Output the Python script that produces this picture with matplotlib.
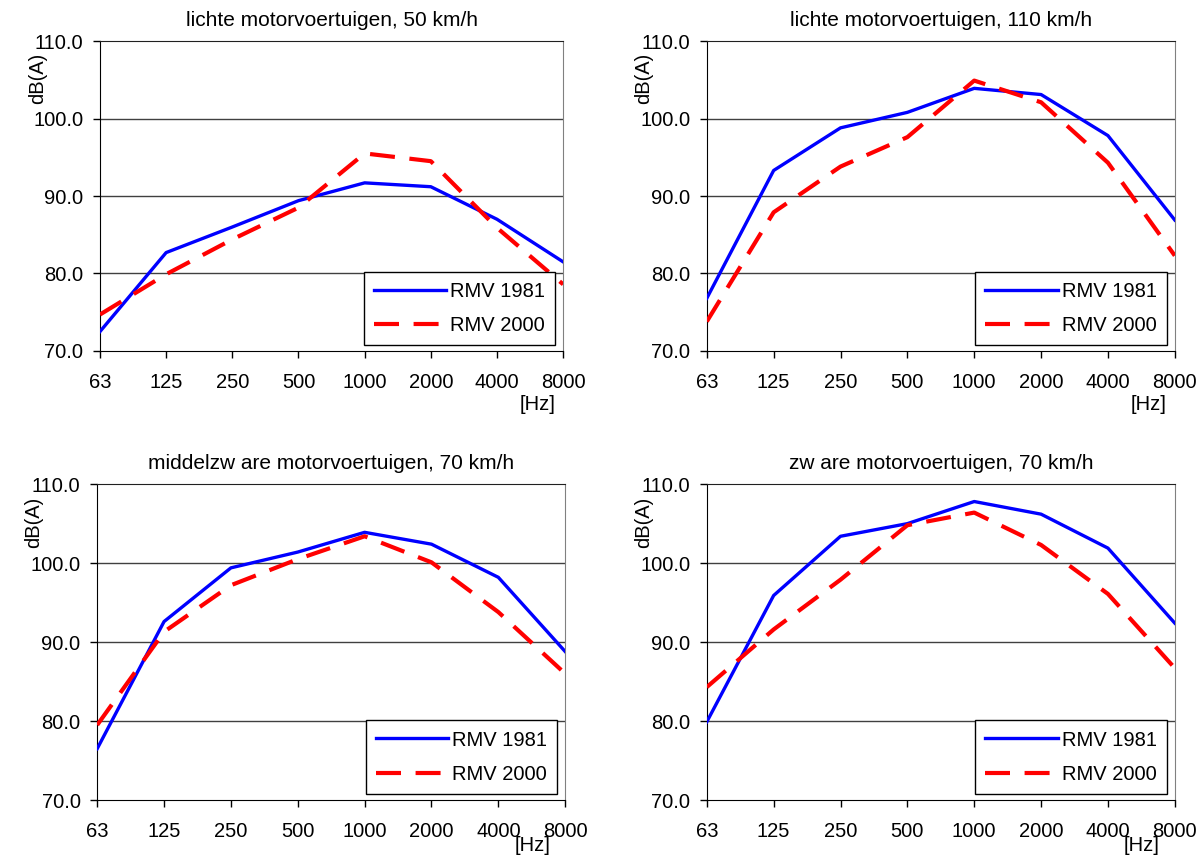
import matplotlib
matplotlib.use('Agg')
import matplotlib.pyplot as plt

plt.rcParams['font.family'] = ['Liberation Sans', 'DejaVu Sans']

# frequency bands (Hz)
freqs = ['63', '125', '250', '500', '1000', '2000', '4000', '8000']

titles = ['lichte motorvoertuigen, 50 km/h',
          'lichte motorvoertuigen, 110 km/h',
          'middelzw are motorvoertuigen, 70 km/h',
          'zw are motorvoertuigen, 70 km/h']

# RMV 1981 spectra, dB(A)
rmv1981_light50 = [72.5, 82.7, 86.0, 89.4, 91.7, 91.2, 87.0, 81.5]
rmv1981_light110 = [76.8, 93.3, 98.8, 100.8, 103.9, 103.1, 97.8, 86.9]
rmv1981_medium70 = [76.5, 92.6, 99.4, 101.4, 103.9, 102.4, 98.2, 88.8]
rmv1981_heavy70 = [79.9, 95.9, 103.4, 105.0, 107.8, 106.2, 101.9, 92.4]

# RMV 2000 spectra, dB(A)
rmv2000_light50 = [74.7, 79.9, 84.4, 88.5, 95.5, 94.5, 85.9, 78.6]
rmv2000_light110 = [73.8, 87.9, 93.8, 97.6, 104.9, 102.1, 94.3, 82.3]
rmv2000_medium70 = [79.5, 91.3, 97.2, 100.5, 103.4, 100.1, 93.8, 86.0]
rmv2000_heavy70 = [84.3, 91.6, 97.9, 104.8, 106.4, 102.3, 96.1, 86.7]

series_1981 = [rmv1981_light50, rmv1981_light110, rmv1981_medium70, rmv1981_heavy70]
series_2000 = [rmv2000_light50, rmv2000_light110, rmv2000_medium70, rmv2000_heavy70]

# axes boxes in figure fractions
boxes = [[0.0833, 0.590, 0.386, 0.362],
         [0.589, 0.590, 0.390, 0.362],
         [0.081, 0.0654, 0.390, 0.369],
         [0.589, 0.0654, 0.390, 0.369]]
# position of the [Hz] label in axes fractions
hz_pos = [(0.944, -0.174), (0.944, -0.174), (0.93, -0.145), (0.93, -0.145)]

fig = plt.figure(figsize=(12, 8.56), dpi=100)

x = list(range(len(freqs)))
for i in range(4):
    ax = fig.add_axes(boxes[i])
    ax.plot(x, series_1981[i], color='#0000FF', lw=2.4, label='RMV 1981', zorder=3)
    ax.plot(x, series_2000[i], color='#FF0000', lw=3, dashes=(6, 3.5), label='RMV 2000', zorder=3)

    ax.set_xlim(0, 7)
    ax.set_ylim(70, 110)
    ax.set_xticks(x)
    ax.set_xticklabels(freqs)
    ax.set_yticks([70, 80, 90, 100, 110])
    ax.set_yticklabels(['%.1f' % v for v in [70, 80, 90, 100, 110]])
    ax.tick_params(labelsize=14.5, length=5, width=1, color='black', direction='out')
    ax.tick_params(axis='x', pad=11)
    ax.tick_params(axis='y', pad=7)

    for v in [80, 90, 100]:
        ax.axhline(v, color='#404040', lw=1, zorder=1)
    ax.spines['left'].set_color('black')
    ax.spines['bottom'].set_color('black')
    ax.spines['top'].set_color('#202020')
    ax.spines['right'].set_color('#808080')

    ax.set_title(titles[i], fontsize=15, pad=11)
    ax.text(-0.135, 0.88, 'dB(A)', transform=ax.transAxes, rotation=90,
            ha='center', va='center', fontsize=14.5)
    ax.text(hz_pos[i][0], hz_pos[i][1], '[Hz]', transform=ax.transAxes, ha='center',
            va='center', fontsize=14.5)

    leg = ax.legend(loc='lower right', bbox_to_anchor=(0.983, 0.02), fontsize=14.5,
                    handlelength=3.6, fancybox=False, framealpha=1,
                    edgecolor='black', borderpad=0.5, labelspacing=0.75,
                    handletextpad=0.2, borderaxespad=0)
    leg.get_frame().set_linewidth(1)
    leg.set_zorder(5)

fig.savefig('out.png', dpi=100)
